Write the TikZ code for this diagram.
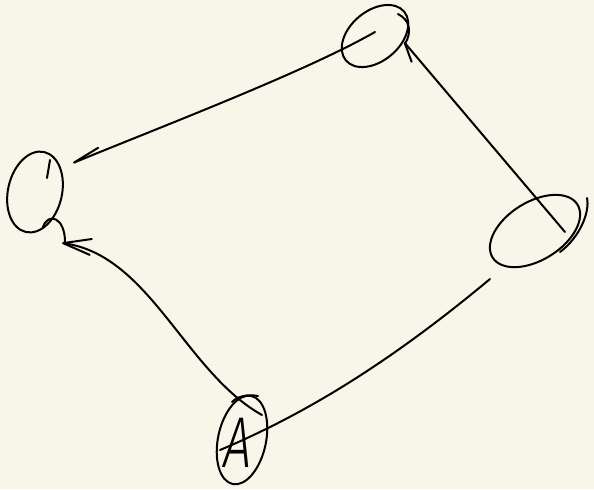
\documentclass[tikz,border=0pt]{standalone}
\usepackage{fontspec}
\newfontfamily\sketchfont{Fira Sans Light}
\usepackage{tikz}
\usetikzlibrary{shapes.geometric,arrows.meta}
\definecolor{paperCream}{RGB}{247,246,233}

\begin{document}
\begin{tikzpicture}[x=0.5pt, y=-0.5pt, line width=1pt, line cap=round,
    blob/.style={draw, ellipse, inner sep=0pt}]
    \fill[paperCream] (0,0) rectangle (594,489);
    \useasboundingbox (0,0) rectangle (594,489);

    \foreach \nm/\xx/\yy/\w/\h/\r in {top/375/36/38/25/40, left/35/192/41/27/77, right/535/231/50/29/32, bottom/242/440/45/24/78} {
        \node[blob, minimum width=\w pt, minimum height=\h pt, rotate=\r] (\nm) at (\xx,\yy) {};
    }
    \node[font=\sketchfont\fontsize{36}{36}\selectfont, inner sep=0pt, xscale=0.69, xslant=0.18] (letA) at (239,443) {A};

    \draw ([shift={(23,-22)}]top.center) .. controls +(12,6) and +(7,-12) .. ([shift={(30,8)}]top.center);
    \draw ([shift={(52,-33)}]right.center) .. controls +(3,14) and +(20,-15) .. ([shift={(25,21)}]right.center);
    \draw ([shift={(16,-44)}]bottom.center) .. controls +(-10,-2) and +(6,-6) .. ([shift={(-10,-38)}]bottom.center);
    \draw ([shift={(12,-14)}]left.center) -- ([shift={(15,-32)}]left.center);
    \draw ([shift={(8,35)}]left.center) .. controls +(5,-15) and +(0,-25) .. ([shift={(30,50)}]left.center);

    \draw[-{Straight Barb[right, round, length=14pt, width=4.5pt]}] ([shift={(0,-4)}]top.center) .. controls (305,72) and (163,126) .. ([shift={(38,-29)}]left.center);
    \draw[-{Straight Barb[round, length=14pt, width=8pt]}] ([shift={(20,-25)}]bottom.center) .. controls (185,372) and (150,255) .. ([shift={(27,51)}]left.center);
    \draw[-{Straight Barb[left, round, length=9.5pt, width=7pt]}] ([shift={(30,1)}]right.center) -- ([shift={(29,6)}]top.center);
    \draw ([shift={(-45,48)}]right.center) .. controls (400,354) and (315,410) .. ([shift={(-22,10)}]bottom.center);
\end{tikzpicture}
\end{document}
